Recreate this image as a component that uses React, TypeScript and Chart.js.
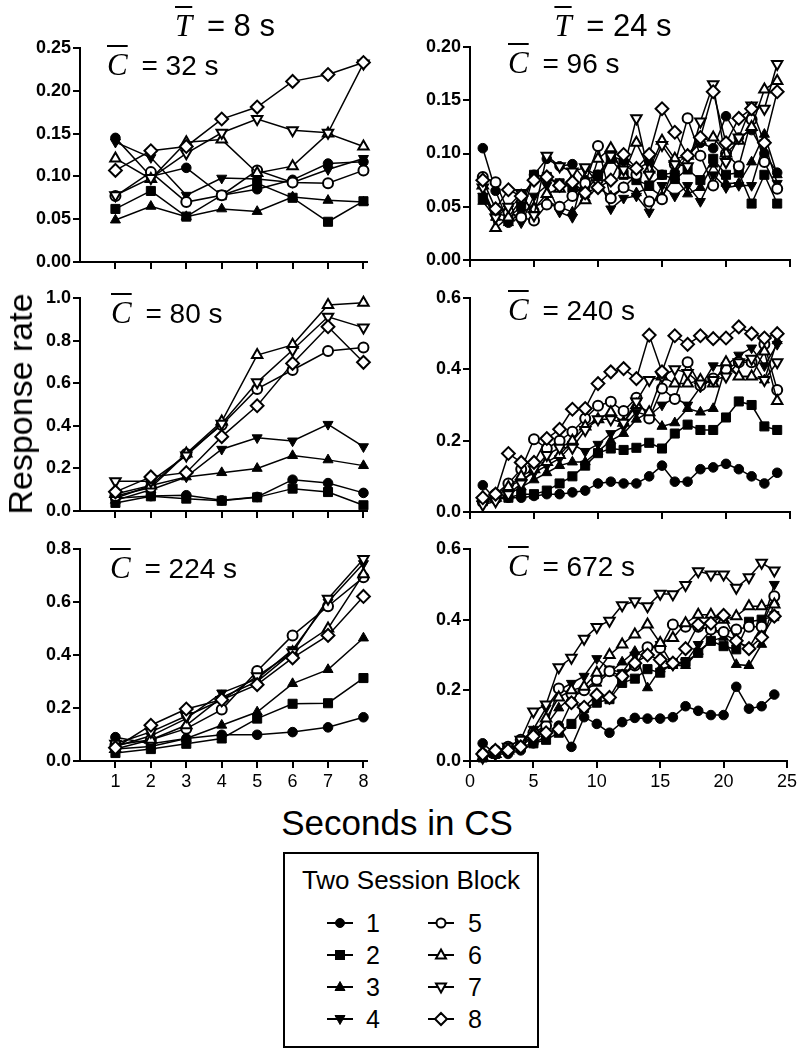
import React, { useEffect, useRef } from 'react';
import { Chart, registerables } from 'chart.js';

Chart.register(...registerables);

// ---------- categories / ticks ----------
const SERIES_LABELS = ['1', '2', '3', '4', '5', '6', '7', '8'];
const X_SHORT = [1, 2, 3, 4, 5, 6, 7, 8];
const X_LONG = [1, 2, 3, 4, 5, 6, 7, 8, 9, 10, 11, 12, 13, 14, 15, 16, 17, 18, 19, 20, 21, 22, 23, 24];
const X_TICKS_SHORT = [1, 2, 3, 4, 5, 6, 7, 8];
const X_TICKS_LONG = [0, 5, 10, 15, 20, 25];
const Y_TICKS_025 = [0, 0.05, 0.1, 0.15, 0.2, 0.25];
const Y_TICKS_020 = [0, 0.05, 0.1, 0.15, 0.2];
const Y_TICKS_10 = [0, 0.2, 0.4, 0.6, 0.8, 1.0];
const Y_TICKS_08 = [0, 0.2, 0.4, 0.6, 0.8];
const Y_TICKS_06 = [0, 0.2, 0.4, 0.6];

// ---------- data: T = 8 s ----------
const C32 = [
  [0.145, 0.100, 0.110, 0.078, 0.085, 0.096, 0.115, 0.117],
  [0.062, 0.083, 0.053, 0.078, 0.092, 0.075, 0.047, 0.071],
  [0.049, 0.065, 0.053, 0.062, 0.059, 0.076, 0.072, 0.070],
  [0.140, 0.122, 0.078, 0.098, 0.097, 0.093, 0.108, 0.121],
  [0.077, 0.105, 0.070, 0.078, 0.107, 0.093, 0.092, 0.107],
  [0.121, 0.097, 0.140, 0.143, 0.104, 0.112, 0.150, 0.135],
  [0.078, 0.098, 0.127, 0.151, 0.167, 0.154, 0.151, 0.232],
  [0.107, 0.130, 0.135, 0.167, 0.181, 0.211, 0.219, 0.233],
];
const C80 = [
  [0.060, 0.070, 0.074, 0.050, 0.066, 0.147, 0.131, 0.085],
  [0.038, 0.069, 0.058, 0.048, 0.064, 0.105, 0.089, 0.027],
  [0.050, 0.100, 0.160, 0.180, 0.200, 0.260, 0.240, 0.213],
  [0.060, 0.120, 0.160, 0.290, 0.344, 0.329, 0.407, 0.302],
  [0.070, 0.110, 0.268, 0.404, 0.573, 0.662, 0.751, 0.768],
  [0.080, 0.120, 0.270, 0.420, 0.732, 0.780, 0.967, 0.978],
  [0.140, 0.140, 0.260, 0.410, 0.604, 0.756, 0.912, 0.861],
  [0.090, 0.160, 0.180, 0.349, 0.494, 0.693, 0.865, 0.698],
];
const C224 = [
  [0.090, 0.065, 0.085, 0.099, 0.099, 0.109, 0.127, 0.165],
  [0.030, 0.045, 0.065, 0.085, 0.160, 0.216, 0.218, 0.313],
  [0.045, 0.055, 0.085, 0.135, 0.185, 0.292, 0.345, 0.464],
  [0.055, 0.095, 0.160, 0.257, 0.310, 0.420, 0.600, 0.745],
  [0.060, 0.080, 0.122, 0.194, 0.340, 0.474, 0.584, 0.693],
  [0.045, 0.080, 0.135, 0.240, 0.300, 0.410, 0.500, 0.705],
  [0.065, 0.110, 0.170, 0.230, 0.320, 0.410, 0.612, 0.762],
  [0.050, 0.135, 0.196, 0.231, 0.288, 0.389, 0.474, 0.621],
];

// ---------- data: T = 24 s ----------
const C96 = [
  [0.105, 0.065, 0.035, 0.040, 0.080, 0.095, 0.088, 0.090, 0.075, 0.080, 0.098, 0.093, 0.085, 0.092, 0.080, 0.082, 0.098, 0.110, 0.105, 0.135, 0.115, 0.122, 0.100, 0.082],
  [0.058, 0.045, 0.040, 0.050, 0.080, 0.078, 0.072, 0.068, 0.063, 0.080, 0.095, 0.080, 0.075, 0.070, 0.080, 0.076, 0.085, 0.075, 0.095, 0.080, 0.082, 0.053, 0.080, 0.053],
  [0.055, 0.040, 0.035, 0.045, 0.050, 0.055, 0.050, 0.045, 0.058, 0.068, 0.060, 0.068, 0.063, 0.068, 0.060, 0.078, 0.062, 0.068, 0.090, 0.072, 0.072, 0.092, 0.118, 0.080],
  [0.060, 0.045, 0.048, 0.035, 0.060, 0.070, 0.045, 0.040, 0.085, 0.080, 0.048, 0.058, 0.060, 0.045, 0.070, 0.060, 0.070, 0.055, 0.080, 0.068, 0.070, 0.070, 0.110, 0.072],
  [0.078, 0.073, 0.045, 0.040, 0.037, 0.052, 0.050, 0.060, 0.072, 0.107, 0.058, 0.068, 0.080, 0.055, 0.057, 0.090, 0.133, 0.098, 0.070, 0.100, 0.088, 0.132, 0.092, 0.067],
  [0.070, 0.030, 0.040, 0.057, 0.048, 0.062, 0.067, 0.075, 0.056, 0.095, 0.105, 0.080, 0.110, 0.085, 0.112, 0.095, 0.098, 0.112, 0.115, 0.100, 0.112, 0.125, 0.160, 0.168],
  [0.068, 0.040, 0.050, 0.063, 0.042, 0.098, 0.088, 0.083, 0.087, 0.072, 0.098, 0.085, 0.133, 0.080, 0.108, 0.090, 0.088, 0.130, 0.165, 0.092, 0.115, 0.145, 0.142, 0.184],
  [0.075, 0.048, 0.066, 0.060, 0.075, 0.078, 0.070, 0.073, 0.063, 0.068, 0.075, 0.099, 0.086, 0.099, 0.142, 0.120, 0.098, 0.115, 0.158, 0.110, 0.133, 0.142, 0.110, 0.158],
];
const C240 = [
  [0.075, 0.035, 0.040, 0.040, 0.045, 0.050, 0.050, 0.055, 0.060, 0.080, 0.085, 0.080, 0.080, 0.100, 0.130, 0.085, 0.085, 0.120, 0.125, 0.135, 0.120, 0.100, 0.080, 0.110],
  [0.030, 0.040, 0.040, 0.050, 0.050, 0.060, 0.080, 0.100, 0.130, 0.165, 0.178, 0.174, 0.180, 0.194, 0.178, 0.220, 0.245, 0.230, 0.230, 0.265, 0.310, 0.300, 0.240, 0.230],
  [0.030, 0.040, 0.050, 0.070, 0.090, 0.110, 0.130, 0.140, 0.140, 0.170, 0.200, 0.220, 0.260, 0.280, 0.240, 0.250, 0.290, 0.280, 0.290, 0.410, 0.380, 0.380, 0.370, 0.480],
  [0.030, 0.050, 0.070, 0.090, 0.110, 0.130, 0.150, 0.190, 0.170, 0.190, 0.220, 0.240, 0.280, 0.270, 0.300, 0.320, 0.300, 0.350, 0.410, 0.410, 0.440, 0.460, 0.410, 0.470],
  [0.030, 0.050, 0.080, 0.120, 0.204, 0.178, 0.200, 0.225, 0.262, 0.298, 0.309, 0.283, 0.320, 0.262, 0.346, 0.317, 0.420, 0.355, 0.374, 0.400, 0.420, 0.420, 0.470, 0.342],
  [0.040, 0.040, 0.070, 0.100, 0.120, 0.140, 0.160, 0.200, 0.240, 0.260, 0.280, 0.250, 0.300, 0.280, 0.380, 0.360, 0.360, 0.370, 0.360, 0.420, 0.380, 0.380, 0.450, 0.311],
  [0.020, 0.030, 0.050, 0.080, 0.120, 0.160, 0.180, 0.180, 0.230, 0.260, 0.260, 0.250, 0.310, 0.370, 0.380, 0.400, 0.390, 0.360, 0.370, 0.380, 0.420, 0.430, 0.370, 0.420],
  [0.040, 0.050, 0.164, 0.139, 0.139, 0.206, 0.232, 0.288, 0.290, 0.360, 0.393, 0.402, 0.374, 0.496, 0.393, 0.494, 0.470, 0.494, 0.486, 0.488, 0.519, 0.500, 0.488, 0.500],
];
const C672 = [
  [0.050, 0.020, 0.020, 0.030, 0.050, 0.070, 0.100, 0.040, 0.124, 0.105, 0.080, 0.110, 0.122, 0.120, 0.120, 0.124, 0.155, 0.142, 0.130, 0.130, 0.210, 0.148, 0.155, 0.188],
  [0.010, 0.020, 0.030, 0.040, 0.050, 0.060, 0.080, 0.105, 0.150, 0.165, 0.175, 0.221, 0.233, 0.260, 0.250, 0.277, 0.280, 0.306, 0.340, 0.325, 0.316, 0.394, 0.400, 0.410],
  [0.010, 0.020, 0.030, 0.050, 0.070, 0.100, 0.150, 0.180, 0.200, 0.220, 0.250, 0.280, 0.310, 0.207, 0.260, 0.270, 0.270, 0.310, 0.340, 0.350, 0.273, 0.270, 0.330, 0.450],
  [0.010, 0.020, 0.030, 0.050, 0.090, 0.150, 0.200, 0.220, 0.240, 0.290, 0.260, 0.250, 0.300, 0.320, 0.330, 0.270, 0.280, 0.330, 0.370, 0.360, 0.340, 0.320, 0.380, 0.500],
  [0.020, 0.030, 0.040, 0.060, 0.080, 0.100, 0.205, 0.190, 0.200, 0.230, 0.254, 0.240, 0.270, 0.322, 0.320, 0.386, 0.380, 0.380, 0.372, 0.365, 0.372, 0.380, 0.380, 0.466],
  [0.010, 0.020, 0.030, 0.050, 0.080, 0.120, 0.180, 0.200, 0.210, 0.250, 0.300, 0.330, 0.358, 0.386, 0.334, 0.348, 0.390, 0.414, 0.414, 0.400, 0.410, 0.438, 0.438, 0.443],
  [0.010, 0.020, 0.040, 0.060, 0.140, 0.160, 0.265, 0.292, 0.346, 0.379, 0.397, 0.441, 0.452, 0.438, 0.473, 0.472, 0.498, 0.537, 0.528, 0.528, 0.490, 0.520, 0.561, 0.539],
  [0.020, 0.030, 0.030, 0.040, 0.070, 0.080, 0.090, 0.165, 0.152, 0.187, 0.180, 0.240, 0.277, 0.300, 0.287, 0.277, 0.318, 0.386, 0.390, 0.412, 0.340, 0.318, 0.350, 0.410],
];

// ---------- marker styles ----------
const POINT_STYLES = ['circle', 'rect', 'triangle', 'triangle', 'circle', 'triangle', 'triangle', 'rectRot'];
const POINT_ROT = [0, 0, 0, 180, 0, 0, 180, 0];
const FILLED = [true, true, true, true, false, false, false, false];
const POINT_R = [4.8, 6.4, 5.8, 5.8, 5.0, 6.0, 6.0, 6.4];

const SANS = '"Liberation Sans", Arial, sans-serif';
const NARROW = '"Liberation Sans Narrow", "Arial Narrow", "Liberation Sans", Arial, sans-serif';
const SERIF = '"Liberation Serif", "Times New Roman", serif';

type Box = { l: number; r: number; t: number; b: number };
type PanelProps = {
  series: number[][];
  xs: number[];
  xMax: number;
  xTicks: number[];
  yMax: number;
  yTicks: number[];
  yDec: number;
  box: Box;
  padRight: number;
  showXLabels: boolean;
};

const Y_AXIS_W = 70;
const X_AXIS_H = 36;
const PAD_TOP = 20;

function Panel(p: PanelProps) {
  const ref = useRef<HTMLCanvasElement | null>(null);
  const left = p.box.l - Y_AXIS_W;
  const top = p.box.t - PAD_TOP;
  const width = p.box.r + p.padRight - left;
  const height = p.box.b + X_AXIS_H - top;

  useEffect(() => {
    if (!ref.current) return;
    const datasets = p.series.map((vals, i) => ({
      label: SERIES_LABELS[i],
      data: vals.map((v, j) => ({ x: p.xs[j], y: v })),
      borderColor: '#000',
      borderWidth: 1.5,
      backgroundColor: FILLED[i] ? '#000' : '#fff',
      pointStyle: POINT_STYLES[i] as any,
      pointRotation: POINT_ROT[i],
      pointRadius: POINT_R[i],
      pointBackgroundColor: FILLED[i] ? '#000' : '#fff',
      pointBorderColor: '#000',
      pointBorderWidth: FILLED[i] ? 1 : 2,
      tension: 0,
      fill: false,
      clip: false as any,
      order: 8 - i,
    }));
    const gridCfg = { drawOnChartArea: false, color: '#000', lineWidth: 2, tickLength: 7 };
    const chart = new Chart(ref.current, {
      type: 'line',
      data: { datasets: datasets as any },
      options: {
        responsive: false,
        maintainAspectRatio: false,
        animation: false,
        events: [],
        layout: { padding: { top: PAD_TOP, right: p.padRight, left: 0, bottom: 0 } },
        plugins: { legend: { display: false }, tooltip: { enabled: false } },
        scales: {
          x: {
            type: 'linear',
            min: 0,
            max: p.xMax,
            afterBuildTicks: (s: any) => {
              s.ticks = p.xTicks.map((v) => ({ value: v }));
            },
            afterFit: (s: any) => {
              s.height = X_AXIS_H;
            },
            grid: gridCfg,
            border: { color: '#000', width: 2 },
            ticks: {
              color: '#000',
              autoSkip: false,
              maxRotation: 0,
              padding: 3,
              font: { family: SANS, size: 18 },
              callback: (v: any) => (p.showXLabels ? String(v) : ''),
            },
          },
          y: {
            type: 'linear',
            min: 0,
            max: p.yMax,
            afterBuildTicks: (s: any) => {
              s.ticks = p.yTicks.map((v) => ({ value: v }));
            },
            afterFit: (s: any) => {
              s.width = Y_AXIS_W;
            },
            grid: gridCfg,
            border: { color: '#000', width: 2 },
            ticks: {
              color: '#000',
              padding: 2,
              font: { family: SANS, size: 18, weight: 'bold' },
              callback: (v: any) => Number(v).toFixed(p.yDec),
            },
          },
        },
      } as any,
    });
    return () => chart.destroy();
  }, []);

  return (
    <canvas
      ref={ref}
      width={width}
      height={height}
      style={{ position: 'absolute', left, top, width, height }}
    />
  );
}

function BarLetter({ letter, size }: { letter: string; size: number }) {
  return (
    <span
      style={{
        fontFamily: SERIF,
        fontStyle: 'italic',
        fontSize: size,
        textDecoration: 'overline',
        textDecorationThickness: '2px',
      }}
    >
      {letter}
    </span>
  );
}

function Annot({ x, baseline, value }: { x: number; baseline: number; value: string }) {
  return (
    <div
      style={{
        position: 'absolute',
        left: x,
        top: baseline - 30,
        height: 40,
        lineHeight: '40px',
        whiteSpace: 'nowrap',
        fontFamily: SANS,
        fontSize: 28,
        color: '#000',
      }}
    >
      <BarLetter letter="C" size={31} />
      <span style={{ marginLeft: 6 }}> = {value} s</span>
    </div>
  );
}

function ColTitle({ cx, baseline, value }: { cx: number; baseline: number; value: string }) {
  return (
    <div
      style={{
        position: 'absolute',
        left: cx,
        top: baseline - 30,
        height: 40,
        lineHeight: '40px',
        transform: 'translateX(-50%)',
        whiteSpace: 'nowrap',
        fontFamily: NARROW,
        fontSize: 31,
        color: '#000',
      }}
    >
      <BarLetter letter="T" size={31} />
      <span style={{ marginLeft: 6 }}> = {value} s</span>
    </div>
  );
}

function Marker({ i }: { i: number }) {
  const f = FILLED[i] ? '#000' : '#fff';
  const sw = FILLED[i] ? 1 : 2;
  const cx = 14;
  const cy = 9;
  let shape: any = null;
  const st = POINT_STYLES[i];
  if (st === 'circle') shape = <circle cx={cx} cy={cy} r={4.5} fill={f} stroke="#000" strokeWidth={sw} />;
  else if (st === 'rect') shape = <rect x={cx - 4.5} y={cy - 4.5} width={9} height={9} fill={f} stroke="#000" strokeWidth={sw} />;
  else if (st === 'rectRot')
    shape = <polygon points={`${cx},${cy - 6} ${cx + 6},${cy} ${cx},${cy + 6} ${cx - 6},${cy}`} fill={f} stroke="#000" strokeWidth={sw} />;
  else if (POINT_ROT[i] === 0)
    shape = <polygon points={`${cx},${cy - 5.5} ${cx + 5},${cy + 3.5} ${cx - 5},${cy + 3.5}`} fill={f} stroke="#000" strokeWidth={sw} />;
  else
    shape = <polygon points={`${cx},${cy + 5.5} ${cx + 5},${cy - 3.5} ${cx - 5},${cy - 3.5}`} fill={f} stroke="#000" strokeWidth={sw} />;
  return (
    <svg width={28} height={18} style={{ display: 'block' }}>
      <line x1={1} y1={cy} x2={27} y2={cy} stroke="#000" strokeWidth={2} />
      {shape}
    </svg>
  );
}

function Legend() {
  const rowsY = [923, 955, 987, 1019];
  const items = SERIES_LABELS.map((lab, i) => {
    const col = i < 4 ? 0 : 1;
    const row = i % 4;
    const mx = col === 0 ? 326 : 427;
    const lx = col === 0 ? 366 : 468;
    const cy = rowsY[row];
    return (
      <React.Fragment key={lab}>
        <div style={{ position: 'absolute', left: mx, top: cy - 9 }}>
          <Marker i={i} />
        </div>
        <div
          style={{
            position: 'absolute',
            left: lx,
            top: cy - 15,
            height: 30,
            lineHeight: '30px',
            fontFamily: SANS,
            fontSize: 25,
          }}
        >
          {lab}
        </div>
      </React.Fragment>
    );
  });
  return (
    <>
      <div
        style={{
          position: 'absolute',
          left: 283,
          top: 852,
          width: 256,
          height: 196,
          border: '2px solid #000',
          boxSizing: 'border-box',
        }}
      />
      <div
        style={{
          position: 'absolute',
          left: 411,
          top: 862,
          transform: 'translateX(-50%)',
          height: 36,
          lineHeight: '36px',
          whiteSpace: 'nowrap',
          fontFamily: SANS,
          fontSize: 26,
        }}
      >
        Two Session Block
      </div>
      {items}
    </>
  );
}

export default function App() {
  const L = { l: 80, r: 367 };
  const R = { l: 470, r: 790 };
  return (
    <div style={{ position: 'absolute', left: 0, top: 0, width: 802, height: 1050, background: '#fff', overflow: 'hidden' }}>
      <Panel series={C32} xs={X_SHORT} xMax={8.1} xTicks={X_TICKS_SHORT} yMax={0.25} yTicks={Y_TICKS_025} yDec={2}
        box={{ ...L, t: 48, b: 262 }} padRight={20} showXLabels={false} />
      <Panel series={C80} xs={X_SHORT} xMax={8.1} xTicks={X_TICKS_SHORT} yMax={1.0} yTicks={Y_TICKS_10} yDec={1}
        box={{ ...L, t: 298, b: 511 }} padRight={20} showXLabels={false} />
      <Panel series={C224} xs={X_SHORT} xMax={8.1} xTicks={X_TICKS_SHORT} yMax={0.8} yTicks={Y_TICKS_08} yDec={1}
        box={{ ...L, t: 549, b: 761 }} padRight={20} showXLabels={true} />
      <Panel series={C96} xs={X_LONG} xMax={25} xTicks={X_TICKS_LONG} yMax={0.2} yTicks={Y_TICKS_020} yDec={2}
        box={{ ...R, t: 47, b: 260 }} padRight={10} showXLabels={false} />
      <Panel series={C240} xs={X_LONG} xMax={25} xTicks={X_TICKS_LONG} yMax={0.6} yTicks={Y_TICKS_06} yDec={1}
        box={{ ...R, t: 298, b: 512 }} padRight={10} showXLabels={false} />
      <Panel series={C672} xs={X_LONG} xMax={25} xTicks={X_TICKS_LONG} yMax={0.6} yTicks={Y_TICKS_06} yDec={1}
        box={{ ...R, t: 549, b: 761 }} padRight={10} showXLabels={true} />

      <ColTitle cx={225} baseline={36} value="8" />
      <ColTitle cx={613} baseline={36} value="24" />

      <Annot x={107} baseline={75} value="32" />
      <Annot x={111} baseline={323} value="80" />
      <Annot x={110} baseline={578} value="224" />
      <Annot x={508} baseline={73} value="96" />
      <Annot x={508} baseline={320} value="240" />
      <Annot x={508} baseline={576} value="672" />

      <div
        style={{
          position: 'absolute',
          left: 20,
          top: 404,
          transform: 'translate(-50%, -50%) rotate(-90deg)',
          whiteSpace: 'nowrap',
          fontFamily: SANS,
          fontSize: 34,
          lineHeight: '40px',
        }}
      >
        Response rate
      </div>
      <div
        style={{
          position: 'absolute',
          left: 397,
          top: 805,
          transform: 'translateX(-50%)',
          whiteSpace: 'nowrap',
          fontFamily: SANS,
          fontSize: 35,
          lineHeight: '35px',
        }}
      >
        Seconds in CS
      </div>
      <Legend />
    </div>
  );
}
